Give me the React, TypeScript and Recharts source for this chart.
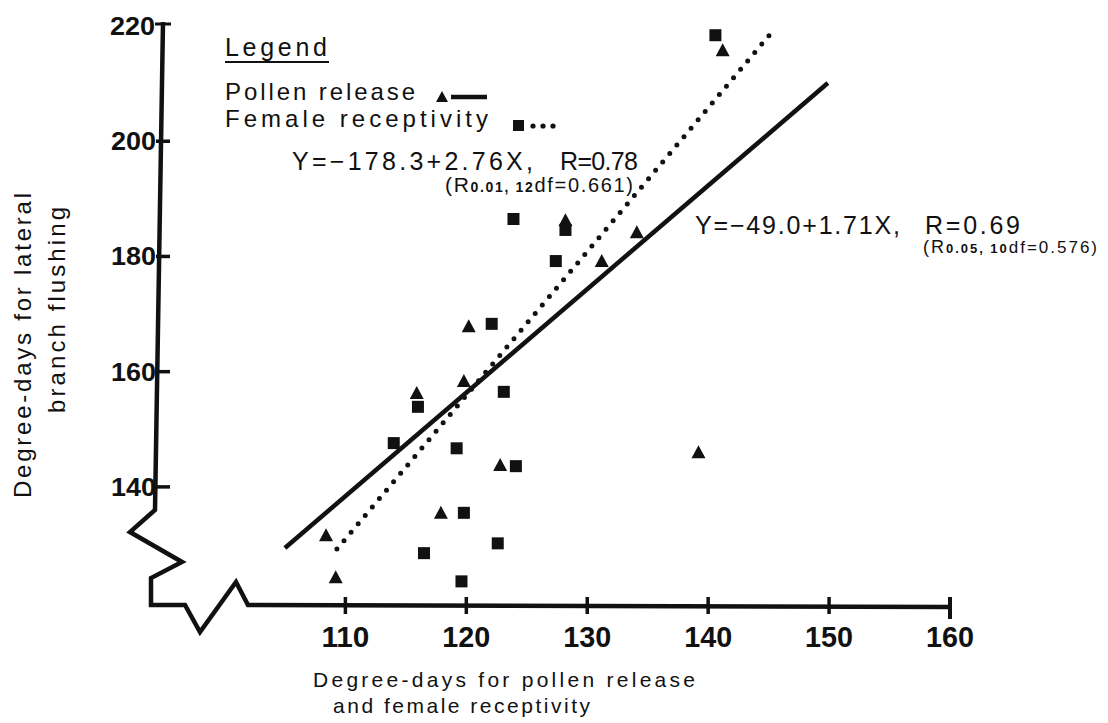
import React from 'react';
import { ComposedChart, Scatter, Line, XAxis, YAxis } from 'recharts';

const W = 1108;
const H = 723;
const FONT = '"Liberation Sans", Arial, sans-serif';
const INK = '#111';

const xTicks = [110, 120, 130, 140, 150, 160];
const yTicks = [140, 160, 180, 200, 220];

// pollen release (triangles)
const pollenX = [108.4, 109.2, 115.9, 117.9, 119.8, 120.2, 122.8, 128.2, 131.2, 134.1, 139.2, 141.2];
const pollenY = [131.6, 124.3, 156.3, 135.5, 158.4, 167.9, 143.8, 186.3, 179.2, 184.2, 146.0, 215.8];

// female receptivity (squares)
const femaleX = [114.0, 116.0, 116.5, 119.2, 119.6, 119.8, 122.1, 122.6, 123.1, 123.9, 124.1, 127.4, 128.2, 140.6];
const femaleY = [147.6, 153.9, 128.5, 146.7, 123.6, 135.5, 168.3, 130.2, 156.5, 186.5, 143.6, 179.2, 184.6, 218.4];

// regression lines, ends as drawn
const pollenFitX = [105.0, 149.9];
const pollenFitY = [129.4, 210.1];
const femaleFitX = [109.3, 145.3];
const femaleFitY = [129.2, 219.0];

const zip = (xs: number[], ys: number[]) => xs.map((x, i) => ({ x, y: ys[i] }));

const pollen = zip(pollenX, pollenY);
const female = zip(femaleX, femaleY);
const pollenFit = zip(pollenFitX, pollenFitY);
const femaleFit = zip(femaleFitX, femaleFitY);

const Triangle = (p: any) => {
  const { cx, cy } = p;
  if (cx == null || cy == null) return null;
  return <polygon points={`${cx},${cy - 7} ${cx - 7},${cy + 6} ${cx + 7},${cy + 6}`} fill={INK} />;
};

const Square = (p: any) => {
  const { cx, cy } = p;
  if (cx == null || cy == null) return null;
  return <rect x={cx - 6} y={cy - 6} width={12} height={12} fill={INK} />;
};

const AXIS_Y = 606;

const XTick = (p: any) => {
  const { x, payload } = p;
  const last = payload.value === 160;
  return (
    <g>
      <line x1={x} x2={x} y1={AXIS_Y - 9} y2={AXIS_Y + (last ? 13 : 8)} stroke={INK} strokeWidth={last ? 4 : 3.5} />
      <text x={x} y={647} textAnchor="middle" fontFamily={FONT} fontWeight="bold" fontSize={30}
        textLength={48} lengthAdjust="spacingAndGlyphs" fill={INK}>
        {payload.value}
      </text>
    </g>
  );
};

const YTick = (p: any) => {
  const { y, payload } = p;
  const top = payload.value === 220;
  return (
    <g>
      {!top && <line x1={156} x2={170} y1={y} y2={y} stroke={INK} strokeWidth={3.5} />}
      <text x={top ? 155 : 156} y={y + 9} textAnchor="end" fontFamily={FONT} fontWeight="bold" fontSize={25}
        textLength={45} lengthAdjust="spacingAndGlyphs" fill={INK}>
        {payload.value}
      </text>
    </g>
  );
};

export default function App() {
  return (
    <div style={{ position: 'absolute', left: 0, top: 0, width: W, height: H, background: '#fff' }}>
      <ComposedChart width={W} height={H} margin={{ top: 26, right: 158, bottom: 88, left: 104 }}>
        <XAxis type="number" dataKey="x" domain={[95, 160]} ticks={xTicks} interval={0} allowDataOverflow
          axisLine={false} tickLine={false} height={30} tick={(p: any) => <XTick {...p} />} />
        <YAxis type="number" dataKey="y" domain={[119.5, 220]} ticks={yTicks} interval={0} allowDataOverflow
          axisLine={false} tickLine={false} width={60} tick={(p: any) => <YTick {...p} />} />
        <Line data={pollenFit} dataKey="y" stroke={INK} strokeWidth={4.5} dot={false} isAnimationActive={false} />
        <Line data={femaleFit} dataKey="y" stroke={INK} strokeWidth={5} strokeDasharray="0 11" strokeLinecap="round"
          dot={false} isAnimationActive={false} />
        <Scatter data={pollen} dataKey="y" shape={Triangle} isAnimationActive={false} />
        <Scatter data={female} dataKey="y" shape={Square} isAnimationActive={false} />
      </ComposedChart>

      <svg width={W} height={H} style={{ position: 'absolute', left: 0, top: 0, pointerEvents: 'none' }}>
        {/* broken axes */}
        <path d="M163,22 L155,510 L130,532 L182,562 L151,578 L151,605 L185,605 L200,632 L236,582 L248,605 L950,607"
          fill="none" stroke={INK} strokeWidth={4.5} strokeLinejoin="miter" />
        <line x1={155} x2={171} y1={24} y2={24} stroke={INK} strokeWidth={3} />

        <g fontFamily={FONT} fill={INK}>
          {/* legend */}
          <text x={225} y={56} fontSize={25} textLength={102} lengthAdjust="spacing">Legend</text>
          <line x1={225} x2={329} y1={62} y2={62} stroke={INK} strokeWidth={2} />
          <text x={225} y={100} fontSize={24} textLength={190} lengthAdjust="spacing">Pollen release</text>
          <polygon points="442,91 436,102 448,102" fill={INK} />
          <line x1={451} x2={487} y1={97} y2={97} stroke={INK} strokeWidth={4.5} />
          <text x={225} y={127} fontSize={24} textLength={263} lengthAdjust="spacing">Female receptivity</text>
          <rect x={513} y={120} width={11} height={11} fill={INK} />
          <circle cx={533} cy={126} r={2.6} fill={INK} />
          <circle cx={543} cy={126} r={2.6} fill={INK} />
          <circle cx={553} cy={126} r={2.6} fill={INK} />

          {/* female regression */}
          <text x={292} y={170} fontSize={25} textLength={241} lengthAdjust="spacing">Y=−178.3+2.76X,</text>
          <text x={560} y={170} fontSize={25} textLength={78} lengthAdjust="spacing">R=0.78</text>
          <text x={445} y={192} textLength={188} lengthAdjust="spacing">
            <tspan fontSize={21}>(R</tspan>
            <tspan fontSize={14} fontWeight="bold">0.01, 12</tspan>
            <tspan fontSize={20}>df=0.661)</tspan>
          </text>

          {/* pollen regression */}
          <text x={695} y={234} fontSize={25} textLength={205} lengthAdjust="spacing">Y=−49.0+1.71X,</text>
          <text x={925} y={234} fontSize={25} textLength={95} lengthAdjust="spacing">R=0.69</text>
          <text x={923} y={253} textLength={174} lengthAdjust="spacing">
            <tspan fontSize={18}>(R</tspan>
            <tspan fontSize={13} fontWeight="bold">0.05, 10</tspan>
            <tspan fontSize={17}>df=0.576)</tspan>
          </text>

          {/* axis titles */}
          <text transform="translate(31,498) rotate(-90)" fontSize={24} textLength={305} lengthAdjust="spacing">
            Degree-days for lateral
          </text>
          <text transform="translate(65,413) rotate(-90)" fontSize={24} textLength={206} lengthAdjust="spacing">
            branch flushing
          </text>
          <text x={313} y={687} fontSize={21} textLength={382} lengthAdjust="spacing">Degree-days for pollen release</text>
          <text x={333} y={713} fontSize={21} textLength={257} lengthAdjust="spacing">and female receptivity</text>
        </g>
      </svg>
    </div>
  );
}
